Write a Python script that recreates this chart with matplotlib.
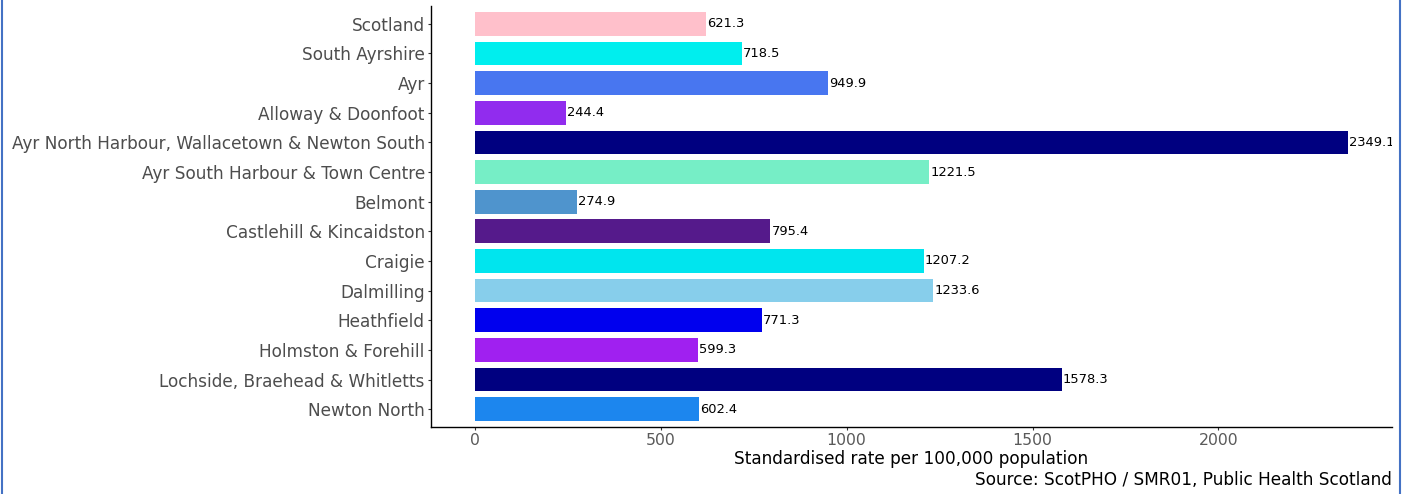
import matplotlib
matplotlib.use("Agg")
import matplotlib.pyplot as plt
from matplotlib.lines import Line2D

categories = ["Scotland", "South Ayrshire", "Ayr", "Alloway & Doonfoot",
              "Ayr North Harbour, Wallacetown & Newton South",
              "Ayr South Harbour & Town Centre", "Belmont",
              "Castlehill & Kincaidston", "Craigie", "Dalmilling",
              "Heathfield", "Holmston & Forehill",
              "Lochside, Braehead & Whitletts", "Newton North"]
values = [621.3, 718.5, 949.9, 244.4, 2349.1, 1221.5, 274.9, 795.4,
          1207.2, 1233.6, 771.3, 599.3, 1578.3, 602.4]
colors = ["#FFC0CB", "#00EEEE", "#4876F0", "#912CEE", "#000080", "#76EEC6",
          "#4F94CD", "#551A8B", "#00E5EE", "#87CEEB", "#0000EE", "#A020F0",
          "#000080", "#1C86EE"]
xticks = [0, 500, 1000, 1500, 2000]

plt.rcParams['font.family'] = ['DejaVu Sans']
fig = plt.figure(figsize=(14.11, 4.94), dpi=100)
ax = fig.add_axes([431/1411, 1-427/494, (1392-431)/1411, (427-6)/494])

ypos = list(range(len(categories)))
ax.barh(ypos, values, height=0.8, color=colors)
for y, v in zip(ypos, values):
    ax.text(v + 3, y, f"{v:.1f}", va="center", ha="left", fontsize=9.4,
            color="black", clip_on=True)

ax.set_ylim(len(categories) - 0.4, -0.6)
ax.set_xlim(-117.5, 2466.6)
ax.set_yticks(ypos)
ax.set_yticklabels(categories, fontsize=12.2, color="#4D4D4D")
ax.set_xticks(xticks)
ax.set_xticklabels([str(t) for t in xticks], fontsize=11.3, color="#5A5A5A")
ax.tick_params(axis="both", color="#333333", length=2.5, width=0.8, pad=2)
for s in ["top", "right"]:
    ax.spines[s].set_visible(False)
for s in ["left", "bottom"]:
    ax.spines[s].set_color("black")
    ax.spines[s].set_linewidth(1.0)
ax.set_xlabel("Standardised rate per 100,000 population", fontsize=12.2,
              color="black", labelpad=1)

fig.text(1392/1411, 1-480/494, "Source: ScotPHO / SMR01, Public Health Scotland",
         ha="right", va="center", fontsize=12.2, color="black")

fig.add_artist(Line2D([1.5/1411, 1.5/1411], [0, 1], color="#4472C4", lw=1.5,
                      transform=fig.transFigure))
fig.add_artist(Line2D([1399.5/1411, 1399.5/1411], [0, 1], color="#4472C4", lw=1.5,
                      transform=fig.transFigure))

fig.savefig("out.png", dpi=100)
